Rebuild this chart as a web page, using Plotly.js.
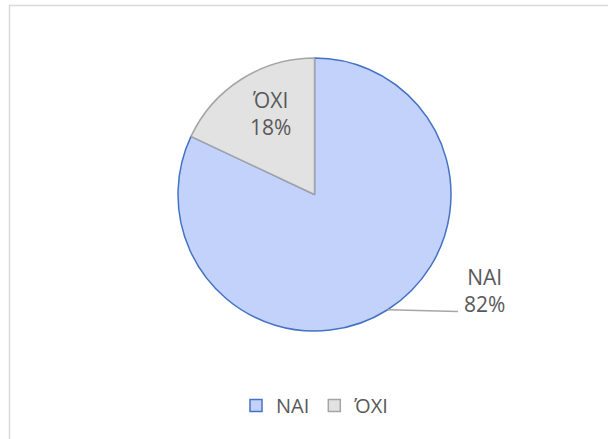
<!DOCTYPE html>
<html>
<head>
<meta charset="utf-8">
<script src="https://cdn.plot.ly/plotly-3.0.1.min.js"></script>
<style>html,body{margin:0;padding:0;background:#fff;}#chart{width:608px;height:439px;}</style>
</head>
<body>
<div id="chart"></div>
<script>
const labels = ["NAI", "ΌΧΙ"];
const values = [82, 18];
const fillColors = ["#c3d2fb", "#e2e2e2"];
const lineColors = ["#4472c4", "#a5a5a5"];

const FONT = "'Open Sans', 'Noto Sans', sans-serif";
const TXT = "#595959";

// pie geometry (pixels)
const W = 608, H = 439, cx = 314.5, cy = 194.5, R = 136.5;

const total = values.reduce((a, b) => a + b, 0);
const pct = values.map(v => Math.round(100 * v / total) + "%");

// NAI bisector angle (clockwise from top) for the leader line
const bis = (values[0] / total) * Math.PI;
const ex = cx + R * Math.sin(bis), ey = cy - R * Math.cos(bis);

const trace = {
  type: "pie",
  labels: labels,
  values: values,
  sort: false,
  direction: "clockwise",
  rotation: 0,
  marker: {colors: fillColors, line: {color: lineColors, width: 1.5}},
  textinfo: "none",
  hoverinfo: "label+percent",
  domain: {x: [(cx - R) / W, (cx + R) / W], y: [1 - (cy + R) / H, 1 - (cy - R) / H]}
};

const labelPos = [[484, 290], [270, 114]];

const layout = {
  width: W, height: H,
  margin: {l: 0, r: 0, t: 0, b: 0},
  paper_bgcolor: "#ffffff",
  font: {family: FONT, color: TXT, size: 20},
  showlegend: true,
  legend: {orientation: "h", x: 236 / W, xanchor: "left", y: 1 - 405.5 / H, yanchor: "middle",
           font: {family: FONT, size: 20, color: TXT}, itemwidth: 30, traceorder: "normal"},
  shapes: [
    {type: "rect", xref: "paper", yref: "paper", x0: 9.5 / W, x1: 1.1, y0: -0.1, y1: 1 - 5.5 / H,
     line: {color: "#d9d9d9", width: 1.5}, fillcolor: "rgba(0,0,0,0)"},
    {type: "line", xref: "paper", yref: "paper", x0: ex / W, y0: 1 - ey / H, x1: 458 / W, y1: 1 - 311.5 / H,
     line: {color: "#a6a6a6", width: 1.5}}
  ],
  annotations: labels.map((l, i) => ({
    xref: "paper", yref: "paper", x: labelPos[i][0] / W, y: 1 - labelPos[i][1] / H,
    xanchor: "center", yanchor: "middle",
    text: l + "<br>" + pct[i], showarrow: false, align: "center",
    font: {family: FONT, size: 21, color: TXT}
  }))
};

Plotly.newPlot("chart", [trace], layout, {displayModeBar: false, staticPlot: true});
</script>
</body>
</html>
